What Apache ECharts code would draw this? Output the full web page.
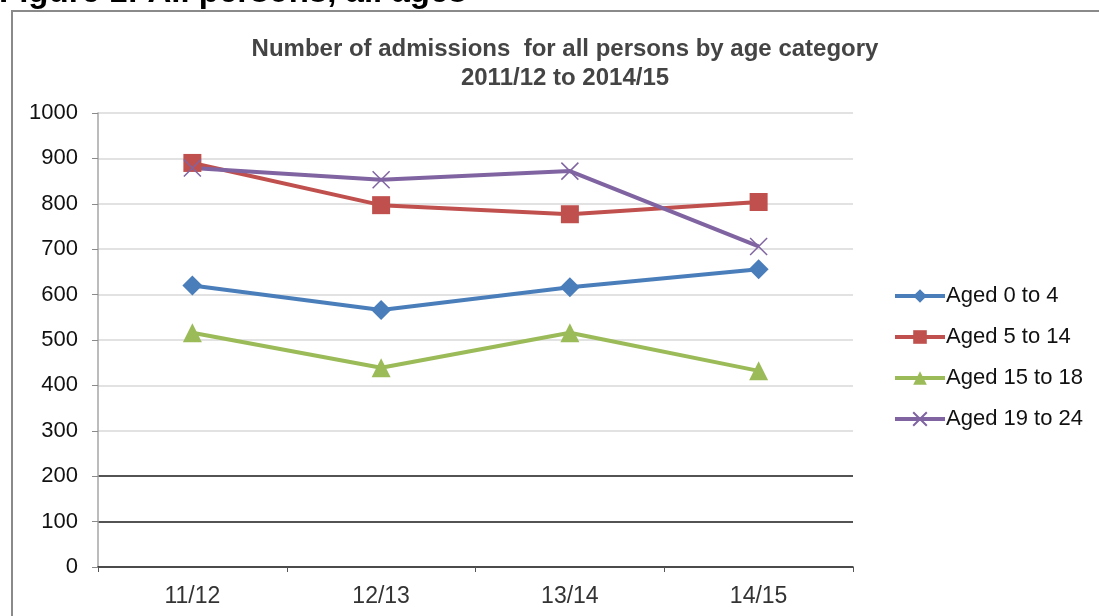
<!DOCTYPE html>
<html>
<head>
<meta charset="utf-8">
<script src="https://cdn.jsdelivr.net/npm/echarts@6/dist/echarts.min.js"></script>
<style>
  html, body { margin: 0; padding: 0; background: #fff; }
  #chart { width: 1099px; height: 616px; }
</style>
</head>
<body>
<div id="chart"></div>
<script>
// Admissions by age category, 2011/12 to 2014/15
const years = ['11/12', '12/13', '13/14', '14/15'];
const aged0to4 = [620, 566, 616, 656];
const aged5to14 = [890, 797, 777, 804];
const aged15to18 = [516, 439, 516, 432];
const aged19to24 = [879, 853, 872, 706];
const yTicks = [0, 100, 200, 300, 400, 500, 600, 700, 800, 900, 1000];

const font = '"Liberation Sans", Arial, sans-serif';
const crossPath = 'path://M0,0L10,10M10,0L0,10';

// gridline colours, one per tick from 0 upward
const gridColors = yTicks.map(v => (v === 100 || v === 200) ? '#1a1a1a' : '#d9d9d9');

function lineSeries(name, data, color, symbol, size, extra) {
  return Object.assign({
    name: name,
    type: 'line',
    data: data,
    symbol: symbol,
    symbolSize: size,
    lineStyle: { color: color, width: 4 },
    itemStyle: { color: color },
    animation: false,
    z: 3
  }, extra || {});
}

const chart = echarts.init(document.getElementById('chart'), null, { renderer: 'canvas' });
chart.setOption({
  backgroundColor: '#fff',
  animation: false,
  graphic: [
    {
      type: 'text', x: -1, y: -7,
      style: { text: 'Figure 1: All persons, all ages', font: 'bold 33px ' + font, fill: '#000', verticalAlign: 'middle' }
    },
    {
      type: 'polyline', silent: true,
      shape: { points: [[12, 700], [12, 11], [1110, 11]] },
      style: { stroke: '#8a8a8a', lineWidth: 2, fill: null }
    }
  ],
  title: {
    text: 'Number of admissions  for all persons by age category\n2011/12 to 2014/15',
    left: 560, top: 30, textAlign: 'center',
    textStyle: { fontFamily: font, fontSize: 24, fontWeight: 'bold', color: '#444', lineHeight: 29 }
  },
  legend: {
    orient: 'vertical',
    left: 888, top: 280,
    itemWidth: 50, itemHeight: 17, itemGap: 19,
    lineStyle: { width: 4 },
    textStyle: { fontFamily: font, fontSize: 22, color: '#111', padding: [0, 0, 0, -4] },
    data: ['Aged 0 to 4', 'Aged 5 to 14', 'Aged 15 to 18', 'Aged 19 to 24']
  },
  grid: { left: 98, right: 246, top: 113, bottom: 49 },
  xAxis: {
    type: 'category',
    data: years,
    boundaryGap: true,
    axisLine: { lineStyle: { color: '#1a1a1a', width: 1.5 } },
    axisTick: { show: true, length: 5, lineStyle: { color: '#555' } },
    axisLabel: { fontFamily: font, fontSize: 23, color: '#333', margin: 18 }
  },
  yAxis: {
    type: 'value',
    min: 0, max: 1000, interval: 100,
    axisLine: { show: true, lineStyle: { color: '#a6a6a6', width: 1.5 } },
    axisTick: { show: true, length: 6, lineStyle: { color: '#8a8a8a' } },
    axisLabel: { fontFamily: font, fontSize: 22, color: '#111', margin: 20, formatter: v => String(v) },
    splitLine: { show: true, lineStyle: { color: gridColors, width: 1.5 } }
  },
  series: [
    lineSeries('Aged 0 to 4', aged0to4, '#4a7ebb', 'diamond', 20),
    lineSeries('Aged 5 to 14', aged5to14, '#c0504d', 'rect', 18),
    lineSeries('Aged 15 to 18', aged15to18, '#9bbb59', 'triangle', 19),
    lineSeries('Aged 19 to 24', aged19to24, '#8064a2', crossPath, 17, {
      itemStyle: { color: '#8064a2', borderColor: '#8064a2', borderWidth: 1.5 }
    })
  ]
});
</script>
</body>
</html>
